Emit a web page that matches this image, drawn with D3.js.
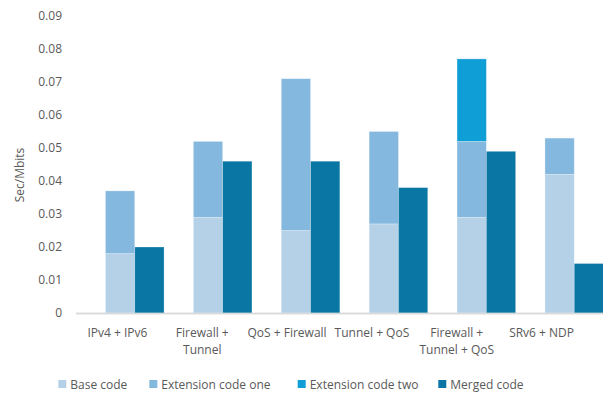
<!DOCTYPE html>
<html>
<head>
<meta charset="utf-8">
<script src="https://cdn.jsdelivr.net/npm/d3@7"></script>
<style>
  html, body { margin: 0; padding: 0; background: #fff; }
  svg { display: block; }
  text { font-family: "Open Sans", "Liberation Sans", sans-serif; fill: #595959; }
</style>
</head>
<body>
<svg id="chart" width="603" height="394"></svg>
<script>
// Categories (label lines) and series values, Sec/Mbits
const categories = ["IPv4 + IPv6", "Firewall + Tunnel", "QoS + Firewall", "Tunnel + QoS", "Firewall + Tunnel + QoS", "SRv6 + NDP"];
const categoryLines = [["IPv4 + IPv6"], ["Firewall +", "Tunnel"], ["QoS + Firewall"], ["Tunnel + QoS"], ["Firewall +", "Tunnel + QoS"], ["SRv6 + NDP"]];
const baseCode = [0.018, 0.029, 0.025, 0.027, 0.029, 0.042];
const extensionOne = [0.019, 0.023, 0.046, 0.028, 0.023, 0.011];
const extensionTwo = [0, 0, 0, 0, 0.025, 0];
const mergedCode = [0.020, 0.046, 0.046, 0.038, 0.049, 0.015];
const yTicks = [0, 0.01, 0.02, 0.03, 0.04, 0.05, 0.06, 0.07, 0.08, 0.09];

const seriesNames = ["Base code", "Extension code one", "Extension code two", "Merged code"];
const colors = ["#B5D1E8", "#84B8DF", "#0F9ED5", "#0A76A3"];

const svg = d3.select("#chart");

const y = d3.scaleLinear().domain([0, 0.09]).range([313, 16]);

// Bar clusters: two bars per category (stacked + merged)
const step = 87.9;
const x0 = d3.scaleBand().domain(categories)
  .range([90.8, 90.8 + step * categories.length])
  .paddingInner(1 / 3).paddingOuter(1 / 6);
const x1 = d3.scaleBand().domain(["stack", "merged"]).range([0, x0.bandwidth()]);

// Category labels
const xLabel = d3.scaleBand().domain(categories).range([75, 584]);

// Axis baseline
svg.append("line")
  .attr("x1", 76).attr("x2", 603)
  .attr("y1", y(0) + 0.5).attr("y2", y(0) + 0.5)
  .attr("stroke", "#D9D9D9").attr("stroke-width", 1.5);

// Stacked data
const rows = categories.map((c, i) => ({
  cat: c, base: baseCode[i], ext1: extensionOne[i], ext2: extensionTwo[i], merged: mergedCode[i]
}));
const stack = d3.stack().keys(["base", "ext1", "ext2"])(rows);

const g = svg.append("g");
stack.forEach((layer, li) => {
  g.selectAll(null).data(layer.filter(d => d[1] - d[0] > 0)).join("rect")
    .attr("x", d => x0(d.data.cat) + x1("stack"))
    .attr("width", x1.bandwidth())
    .attr("y", d => y(d[1]))
    .attr("height", d => y(d[0]) - y(d[1]))
    .attr("fill", colors[li])
    .attr("stroke", "#ffffff").attr("stroke-opacity", 0.35).attr("stroke-width", 0.75);
});

g.selectAll(null).data(rows).join("rect")
  .attr("x", d => x0(d.cat) + x1("merged"))
  .attr("width", x1.bandwidth())
  .attr("y", d => y(d.merged))
  .attr("height", d => y(0) - y(d.merged))
  .attr("fill", colors[3])
  .attr("stroke", "#ffffff").attr("stroke-opacity", 0.35).attr("stroke-width", 0.75);

// Redraw baseline on top
svg.append("line")
  .attr("x1", 76).attr("x2", 603)
  .attr("y1", y(0) + 0.5).attr("y2", y(0) + 0.5)
  .attr("stroke", "#D9D9D9").attr("stroke-width", 1.5);

// Y axis tick labels
const yAxis = d3.axisLeft(y).tickValues(yTicks)
  .tickFormat(d => d === 0 ? "0" : d3.format(".2f")(d))
  .tickSize(0).tickPadding(0);
const ya = svg.append("g").attr("transform", "translate(62,0)").call(yAxis);
ya.select(".domain").remove();
ya.selectAll("text").style("font-size", "12px").attr("fill", "#595959").attr("font-family", null);

// Y axis title
svg.append("text")
  .attr("transform", "translate(24,175) rotate(-90)")
  .attr("text-anchor", "middle")
  .style("font-size", "12px")
  .text("Sec/Mbits");

// Category labels
categories.forEach((c, i) => {
  const t = svg.append("text")
    .attr("x", xLabel(c) + xLabel.bandwidth() / 2)
    .attr("y", 337)
    .attr("text-anchor", "middle")
    .style("font-size", "12px");
  categoryLines[i].forEach((line, li) => {
    t.append("tspan").attr("x", xLabel(c) + xLabel.bandwidth() / 2)
      .attr("dy", li === 0 ? 0 : 17).text(line);
  });
});

// Legend
const legendX = [58.3, 149.3, 297.7, 438.3];
const lg = svg.append("g");
seriesNames.forEach((n, i) => {
  lg.append("rect").attr("x", legendX[i]).attr("y", 380)
    .attr("width", 8).attr("height", 8).attr("fill", colors[i]);
  lg.append("text").attr("x", legendX[i] + 12).attr("y", 388.5)
    .style("font-size", "12px").text(n);
});
</script>
</body>
</html>
